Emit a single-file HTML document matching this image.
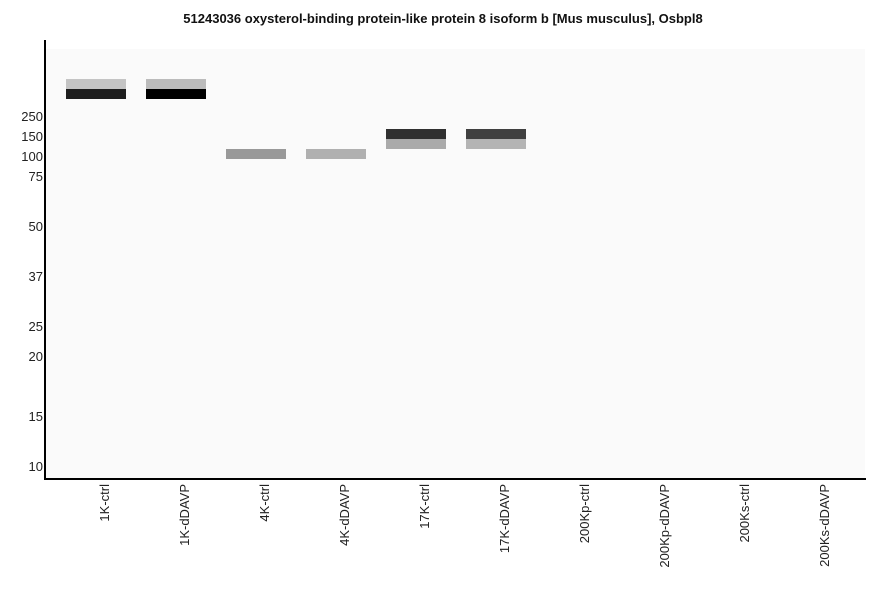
<!DOCTYPE html><html><head><style>
body{margin:0;width:886px;height:595px;background:#fff;font-family:"Liberation Sans",sans-serif;position:relative;overflow:hidden}
div{position:absolute}
.t{font-size:13px;color:#222;right:843px;text-align:right;line-height:14px}
.b{width:60px;height:10px}
.l{font-size:13px;color:#222;transform:rotate(-90deg);transform-origin:right top;white-space:nowrap;line-height:14px;text-align:right;width:120px}
</style></head><body>
<div style="left:0;width:886px;top:11px;text-align:center;font-size:13px;font-weight:bold;color:#111">51243036 oxysterol-binding protein-like protein 8 isoform b [Mus musculus], Osbpl8</div>
<div style="left:46px;top:49px;width:819px;height:429px;background:#fafafa"></div>
<div style="left:44px;top:40px;width:2px;height:440px;background:#000"></div>
<div style="left:44px;top:478px;width:822px;height:2px;background:#000"></div>
<div class="t" style="top:110px">250</div><div class="t" style="top:130px">150</div><div class="t" style="top:150px">100</div><div class="t" style="top:170px">75</div><div class="t" style="top:220px">50</div><div class="t" style="top:270px">37</div><div class="t" style="top:320px">25</div><div class="t" style="top:350px">20</div><div class="t" style="top:410px">15</div><div class="t" style="top:460px">10</div>
<div class="b" style="left:66px;top:79px;background:#c4c4c4"></div><div class="b" style="left:66px;top:89px;background:#1e1e1e"></div>
<div class="b" style="left:146px;top:79px;background:#bbbbbb"></div><div class="b" style="left:146px;top:89px;background:#000"></div>
<div class="b" style="left:226px;top:149px;background:#999"></div>
<div class="b" style="left:306px;top:149px;background:#b0b0b0"></div>
<div class="b" style="left:386px;top:129px;background:#303030"></div><div class="b" style="left:386px;top:139px;background:#aaa"></div>
<div class="b" style="left:466px;top:129px;background:#404040"></div><div class="b" style="left:466px;top:139px;background:#b4b4b4"></div>
<div class="l" style="left:-22px;top:484px">1K-ctrl</div>
<div class="l" style="left:58px;top:484px">1K-dDAVP</div>
<div class="l" style="left:138px;top:484px">4K-ctrl</div>
<div class="l" style="left:218px;top:484px">4K-dDAVP</div>
<div class="l" style="left:298px;top:484px">17K-ctrl</div>
<div class="l" style="left:378px;top:484px">17K-dDAVP</div>
<div class="l" style="left:458px;top:484px">200Kp-ctrl</div>
<div class="l" style="left:538px;top:484px">200Kp-dDAVP</div>
<div class="l" style="left:618px;top:484px">200Ks-ctrl</div>
<div class="l" style="left:698px;top:484px">200Ks-dDAVP</div>
</body></html>
